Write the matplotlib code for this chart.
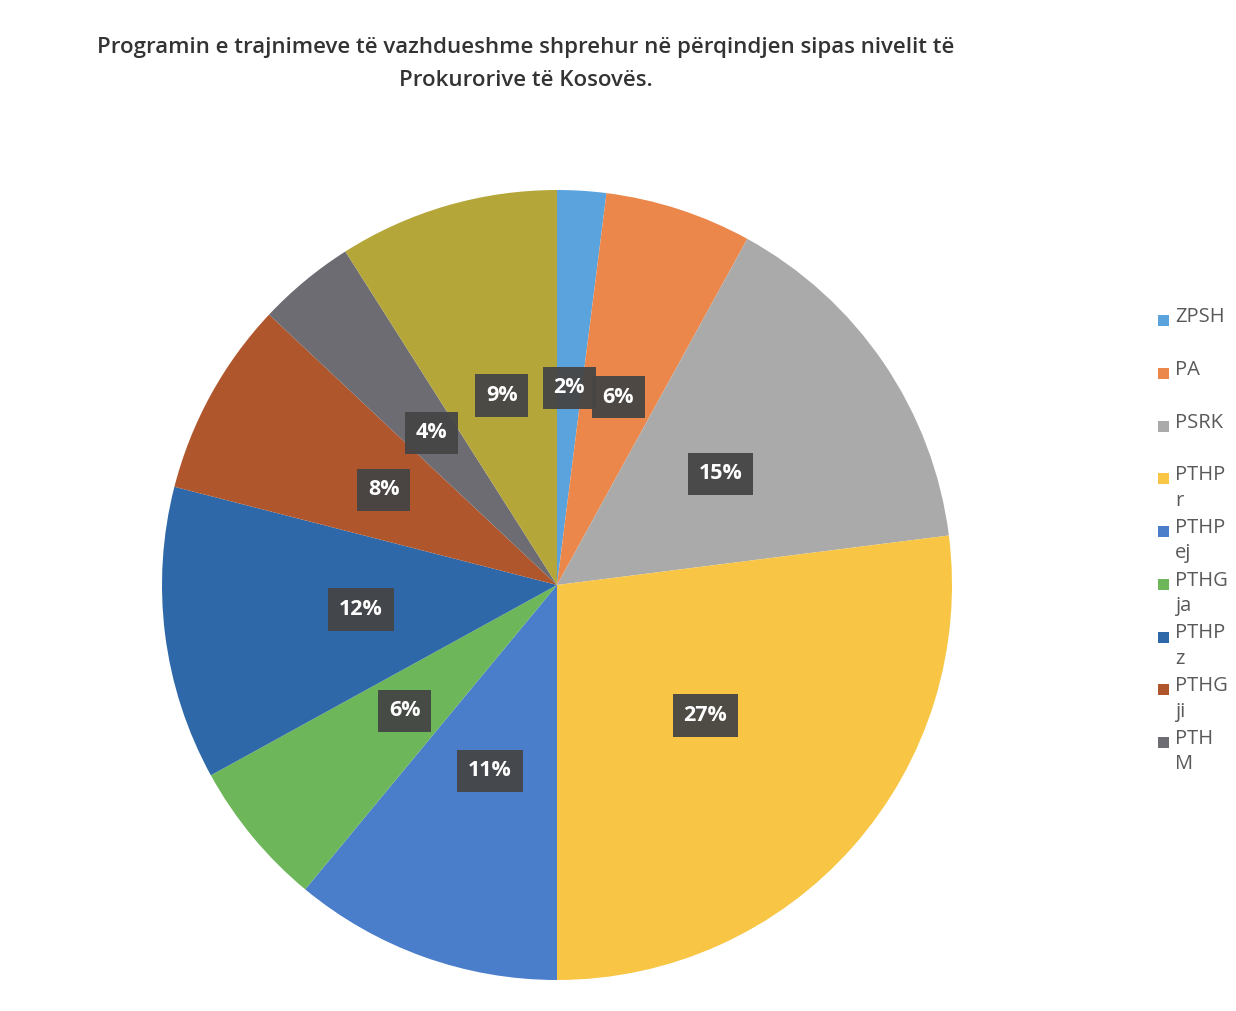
import matplotlib
matplotlib.use("Agg")
import matplotlib.pyplot as plt
from matplotlib.patches import Rectangle

# dane do wykresu
kategorie = ["ZPSH", "PA", "PSRK", "PTHPr", "PTHPej", "PTHGja", "PTHPz", "PTHGji", "PTHM", "inne"]
wartosci = [2, 6, 15, 27, 11, 6, 12, 8, 4, 9]
etykiety_legendy = ["ZPSH", "PA", "PSRK", "PTHP\nr", "PTHP\nej", "PTHG\nja", "PTHP\nz", "PTHG\nji", "PTH\nM"]
kolory = ["#5AA3DC", "#EC874B", "#AAAAAA", "#F8C644", "#4A7DCA",
          "#6DB75A", "#2E68A8", "#B0562C", "#6C6C72", "#B5A63A"]

W, H = 1236, 1011
fig = plt.figure(figsize=(W / 100, H / 100), dpi=100)
fig.patch.set_facecolor("white")

# os z kolem: srodek (557, 585), promien 395 px
cx, cy, r = 557, 585, 395
ax = fig.add_axes([(cx - r) / W, (H - cy - r) / H, 2 * r / W, 2 * r / H])
wedges, teksty = ax.pie(wartosci, colors=kolory, startangle=90, counterclock=False,
                        labels=[f"{v}%" for v in wartosci], labeldistance=0.5,
                        wedgeprops=dict(linewidth=0))
for t in teksty:
    t.set_ha("center")
    t.set_va("center")
    t.set_color("white")
    t.set_fontweight("bold")
    t.set_fontsize(15.5)
    t.set_family("Open Sans")
    t.set_bbox(dict(boxstyle="square,pad=0.5", facecolor="#454545", edgecolor="none", alpha=0.95))
ax.set_xlim(-1, 1)
ax.set_ylim(-1, 1)
ax.set_aspect("equal")
ax.axis("off")

# tytul
fig.text(526 / W, 1 - 48 / H, "Programin e trajnimeve të vazhdueshme shprehur në përqindjen sipas nivelit të",
         ha="center", va="center", fontsize=16, fontweight="semibold", family="Open Sans", color="#333333")
fig.text(526 / W, 1 - 81 / H, "Prokurorive të Kosovës.",
         ha="center", va="center", fontsize=16, fontweight="semibold", family="Open Sans", color="#333333")

# legenda
for i, lab in enumerate(etykiety_legendy):
    y = 320 + i * 52.75
    fig.patches.append(Rectangle((1158 / W, 1 - (y + 6) / H), 11 / W, 11 / H,
                                 transform=fig.transFigure, facecolor=kolory[i], edgecolor="none"))
    fig.text(1175 / W, 1 - (y - 13) / H, lab, ha="left", va="top", fontsize=14.5,
             family="Open Sans", color="#595959", linespacing=1.35)

fig.savefig("out.png", dpi=100, facecolor="white")
